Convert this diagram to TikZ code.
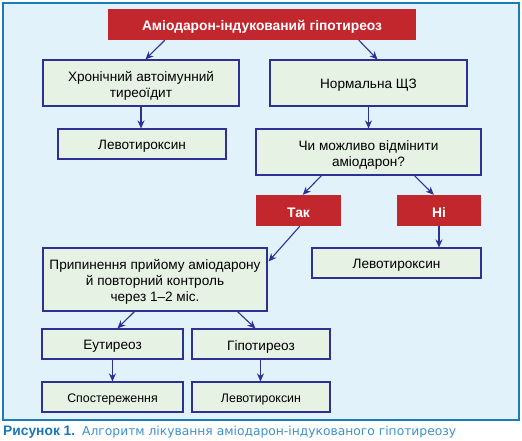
\documentclass[tikz,border=0pt]{standalone}
\usepackage{fontspec}
\setmainfont{Liberation Sans}
\newfontfamily\capfont{DejaVu Sans}
\usetikzlibrary{arrows.meta,calc}
\definecolor{frameblue}{HTML}{1B7DB8}
\definecolor{bgblue}{HTML}{E1F2FB}
\definecolor{boxgreen}{HTML}{E6F2E4}
\definecolor{navy}{HTML}{2E3192}
\definecolor{redbox}{HTML}{C1272D}
\definecolor{capblue}{HTML}{1B75BB}
\definecolor{caplight}{HTML}{3D92CC}
\begin{document}
\begin{tikzpicture}[x=1pt,y=-1pt,
  gbox/.style={draw=navy, line width=1.1pt, fill=boxgreen, inner sep=0pt},
  gtext/.style={align=center, inner sep=0pt, yshift=-2.5pt, font=\fontsize{13.6}{16}\selectfont},
  stext/.style={gtext, font=\fontsize{12.4}{14}\selectfont},
  rbox/.style={fill=redbox, inner sep=0pt},
  rtext/.style={text=white, inner sep=0pt, yshift=-2pt, font=\fontsize{13.8}{16}\selectfont\bfseries},
  arr/.style={draw=navy, line width=1.1pt, -{Stealth[length=8pt,width=7pt,inset=2.5pt]}}]
\useasboundingbox (0,0) rectangle (522,441);
\fill[white] (0,0) rectangle (522,441);
\draw[frameblue, line width=1.1pt, fill=bgblue] (3,3) rectangle (519,420);
% boxes
\node[rbox, minimum width=308pt, minimum height=31pt, label={[rtext]center:Аміодарон-індукований гіпотиреоз}] (top) at (262,24.5) {};
\node[gbox, minimum width=196pt, minimum height=46pt, label={[gtext]center:Хронічний автоімунний\\тиреоїдит}] (chron) at (141,83) {};
\node[gbox, minimum width=197pt, minimum height=46pt, label={[gtext]center:Нормальна ЩЗ}] (norm) at (368.5,83) {};
\node[gbox, minimum width=168pt, minimum height=30pt, label={[gtext]center:Левотироксин}] (levo1) at (142,144) {};
\node[gbox, minimum width=225pt, minimum height=46pt, label={[gtext]center:Чи можливо відмінити\\аміодарон?}] (q) at (368.5,152) {};
\node[rbox, minimum width=85pt, minimum height=31pt, label={[rtext]center:Так}] (yes) at (298.5,210.5) {};
\node[rbox, minimum width=84pt, minimum height=31pt, label={[rtext]center:Ні}] (no) at (439,210.5) {};
\node[gbox, minimum width=169pt, minimum height=30pt, label={[gtext]center:Левотироксин}] (levo2) at (396.5,263) {};
\node[gbox, minimum width=224pt, minimum height=63pt, label={[gtext]center:Припинення прийому аміодарону\\й повторний контроль\\через 1–2 міс.}] (stop) at (155,279.5) {};
\node[gbox, minimum width=141pt, minimum height=30pt, label={[gtext]center:Еутиреоз}] (eu) at (112.5,344) {};
\node[gbox, minimum width=138pt, minimum height=30pt, label={[gtext]center:Гіпотиреоз}] (hypo) at (261,344) {};
\node[gbox, minimum width=141pt, minimum height=30pt, label={[stext]center:Спостереження}] (obs) at (112.5,397) {};
\node[gbox, minimum width=138pt, minimum height=30pt, label={[stext]center:Левотироксин}] (levo3) at (261,397) {};
% caption
\node[anchor=base west, inner sep=0pt, font=\fontsize{13.8}{15}\selectfont\bfseries, text=capblue] (cap1) at (3,435) {Рисунок 1.};
\node[anchor=base west, inner sep=0pt, font=\capfont\fontsize{12.3}{15}\selectfont, text=caplight] (cap2) at (82,435) {Алгоритм лікування аміодарон-індукованого гіпотиреозу};
% arrows
\draw[arr] ($(top.south west)+(57,0)$) -- ($(chron.north west)+(103,0)$);
\draw[arr] ($(top.south west)+(251,0)$) -- ($(norm.north west)+(108,0)$);
\draw[arr] (chron.south) -- (chron.south |- levo1.north);
\draw[arr] (norm.south) -- (norm.south |- q.north);
\draw[arr] ($(q.south west)+(66,0)$) -- ($(yes.north west)+(47,0)$);
\draw[arr] ($(q.south west)+(159,0)$) -- ($(no.north west)+(37,0)$);
\draw[arr] (no.south) -- (no.south |- levo2.north);
\draw[arr] ($(yes.south west)+(44,0)$) -- ($(stop.north east)+(1,14)$);
\draw[arr] ($(stop.south west)+(92,0)$) -- ($(eu.north west)+(76,0)$);
\draw[arr] ($(stop.south west)+(195,0)$) -- ($(hypo.north west)+(64,0)$);
\draw[arr] ($(eu.south west)+(71,0)$) -- ($(obs.north west)+(71,0)$);
\draw[arr] ($(hypo.south west)+(69,0)$) -- ($(levo3.north west)+(69,0)$);
\end{tikzpicture}
\end{document}
